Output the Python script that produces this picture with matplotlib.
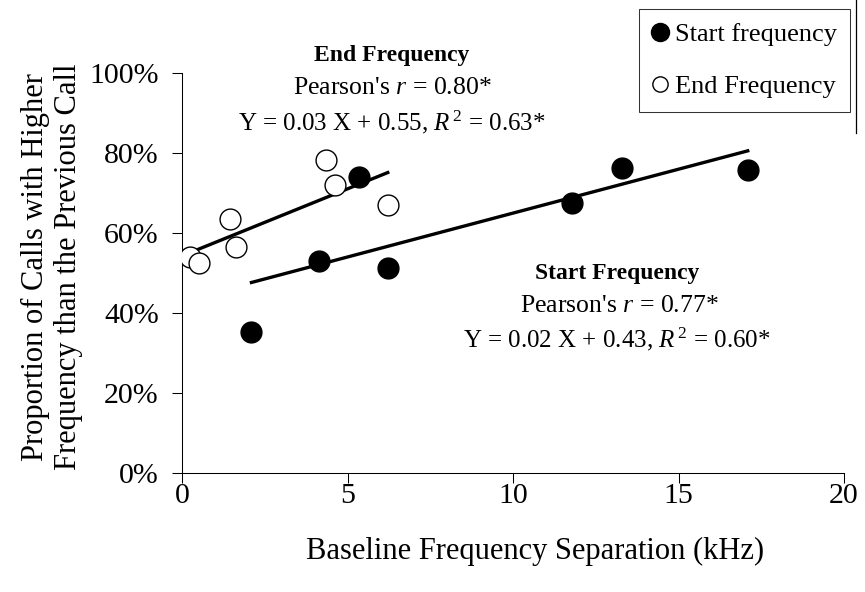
import numpy as np
import matplotlib
matplotlib.use("Agg")
import matplotlib.pyplot as plt
from matplotlib.lines import Line2D
from matplotlib.ticker import FuncFormatter

plt.rcParams['font.family'] = ['Liberation Serif', 'DejaVu Serif']
plt.rcParams['mathtext.fontset'] = 'custom'
plt.rcParams['mathtext.rm'] = 'Liberation Serif'
plt.rcParams['mathtext.it'] = 'Liberation Serif:italic'

# start frequency (filled) and end frequency (open)
start_x = [2.09, 4.12, 5.33, 6.22, 11.77, 13.28, 17.09]
start_y = [35.2, 53.1, 73.9, 51.2, 67.4, 76.1, 75.7]
end_x = [0.24, 0.49, 1.43, 1.62, 4.35, 4.61, 6.21]
end_y = [53.9, 52.5, 63.5, 56.4, 78.2, 72.0, 67.0]

x_ticks = [0, 5, 10, 15, 20]
y_ticks = [0, 20, 40, 60, 80, 100]

W, H = 865, 592
fig = plt.figure(figsize=(W / 100, H / 100), dpi=100)
ax = fig.add_axes([182.3 / W, 1 - 473.3 / H, (844 - 182.3) / W, (473.3 - 72.7) / H])

ax.scatter(start_x, start_y, s=15**2, c='black', zorder=3)
ax.scatter(end_x, end_y, s=15**2, facecolors='white', edgecolors='black',
           linewidths=1.0, zorder=3)

# regression lines over the data range
for xs, ys in [(start_x, start_y), (end_x, end_y)]:
    b, a = np.polyfit(xs, ys, 1)
    xx = np.array([min(xs), max(xs)])
    ax.plot(xx, a + b * xx, color='black', lw=2.4, zorder=2)

ax.set_xlim(0, 20)
ax.set_ylim(0, 100)
ax.set_xticks(x_ticks)
ax.set_yticks(y_ticks)
ax.yaxis.set_major_formatter(FuncFormatter(lambda v, p: f"{v:.0f}%"))
ax.tick_params(direction='out', length=7, width=0.75, labelsize=21.5)
ax.tick_params(axis='y', pad=10)
ax.tick_params(axis='x', pad=0)
for s in ['top', 'right']:
    ax.spines[s].set_visible(False)
for s in ['left', 'bottom']:
    ax.spines[s].set_linewidth(0.75)
ax.patch.set_visible(False)

ax.set_xlabel("Baseline Frequency Separation (kHz)", fontsize=22)
ax.xaxis.set_label_coords(0.533, -0.16)
ax.set_ylabel("Proportion of Calls with Higher\nFrequency than the Previous Call",
              fontsize=22, linespacing=1.2)
ax.yaxis.set_label_coords(-0.15, 0.515)

# annotations (figure pixel positions)
def ftxt(x, y, s, **kw):
    fig.text(x / W, 1 - y / H, s, ha='center', va='center', **kw)

ftxt(392, 55, "End Frequency", fontsize=17, fontweight='bold')
ftxt(392, 88, "Pearson's $r$ = 0.80*", fontsize=18.5)
ftxt(392, 122, "Y = 0.03 X + 0.55, $R^{\\,2}$ = 0.63*", fontsize=18)
ftxt(617, 273, "Start Frequency", fontsize=17, fontweight='bold')
ftxt(619, 306, "Pearson's $r$ = 0.77*", fontsize=18.5)
ftxt(617, 339, "Y = 0.02 X + 0.43, $R^{\\,2}$ = 0.60*", fontsize=18)

handles = [
    Line2D([], [], ls='none', marker='o', ms=13, mfc='black', mec='black'),
    Line2D([], [], ls='none', marker='o', ms=11, mfc='white', mec='black', mew=1.0),
]
labels = ['Start frequency', 'End Frequency']
leg = fig.legend(handles, labels, loc='upper right',
                 bbox_to_anchor=(850 / W, 1 - 9.3 / H), fontsize=19,
                 frameon=True, fancybox=False, edgecolor='black',
                 borderaxespad=0, handletextpad=0.25, borderpad=0.5,
                 labelspacing=1.1, handlelength=0.6)
leg.get_frame().set_linewidth(0.75)

fig.add_artist(Line2D([856 / W, 856 / W], [1, 1 - 133 / H], color='black', lw=0.9))

fig.savefig("out.png", dpi=100)
